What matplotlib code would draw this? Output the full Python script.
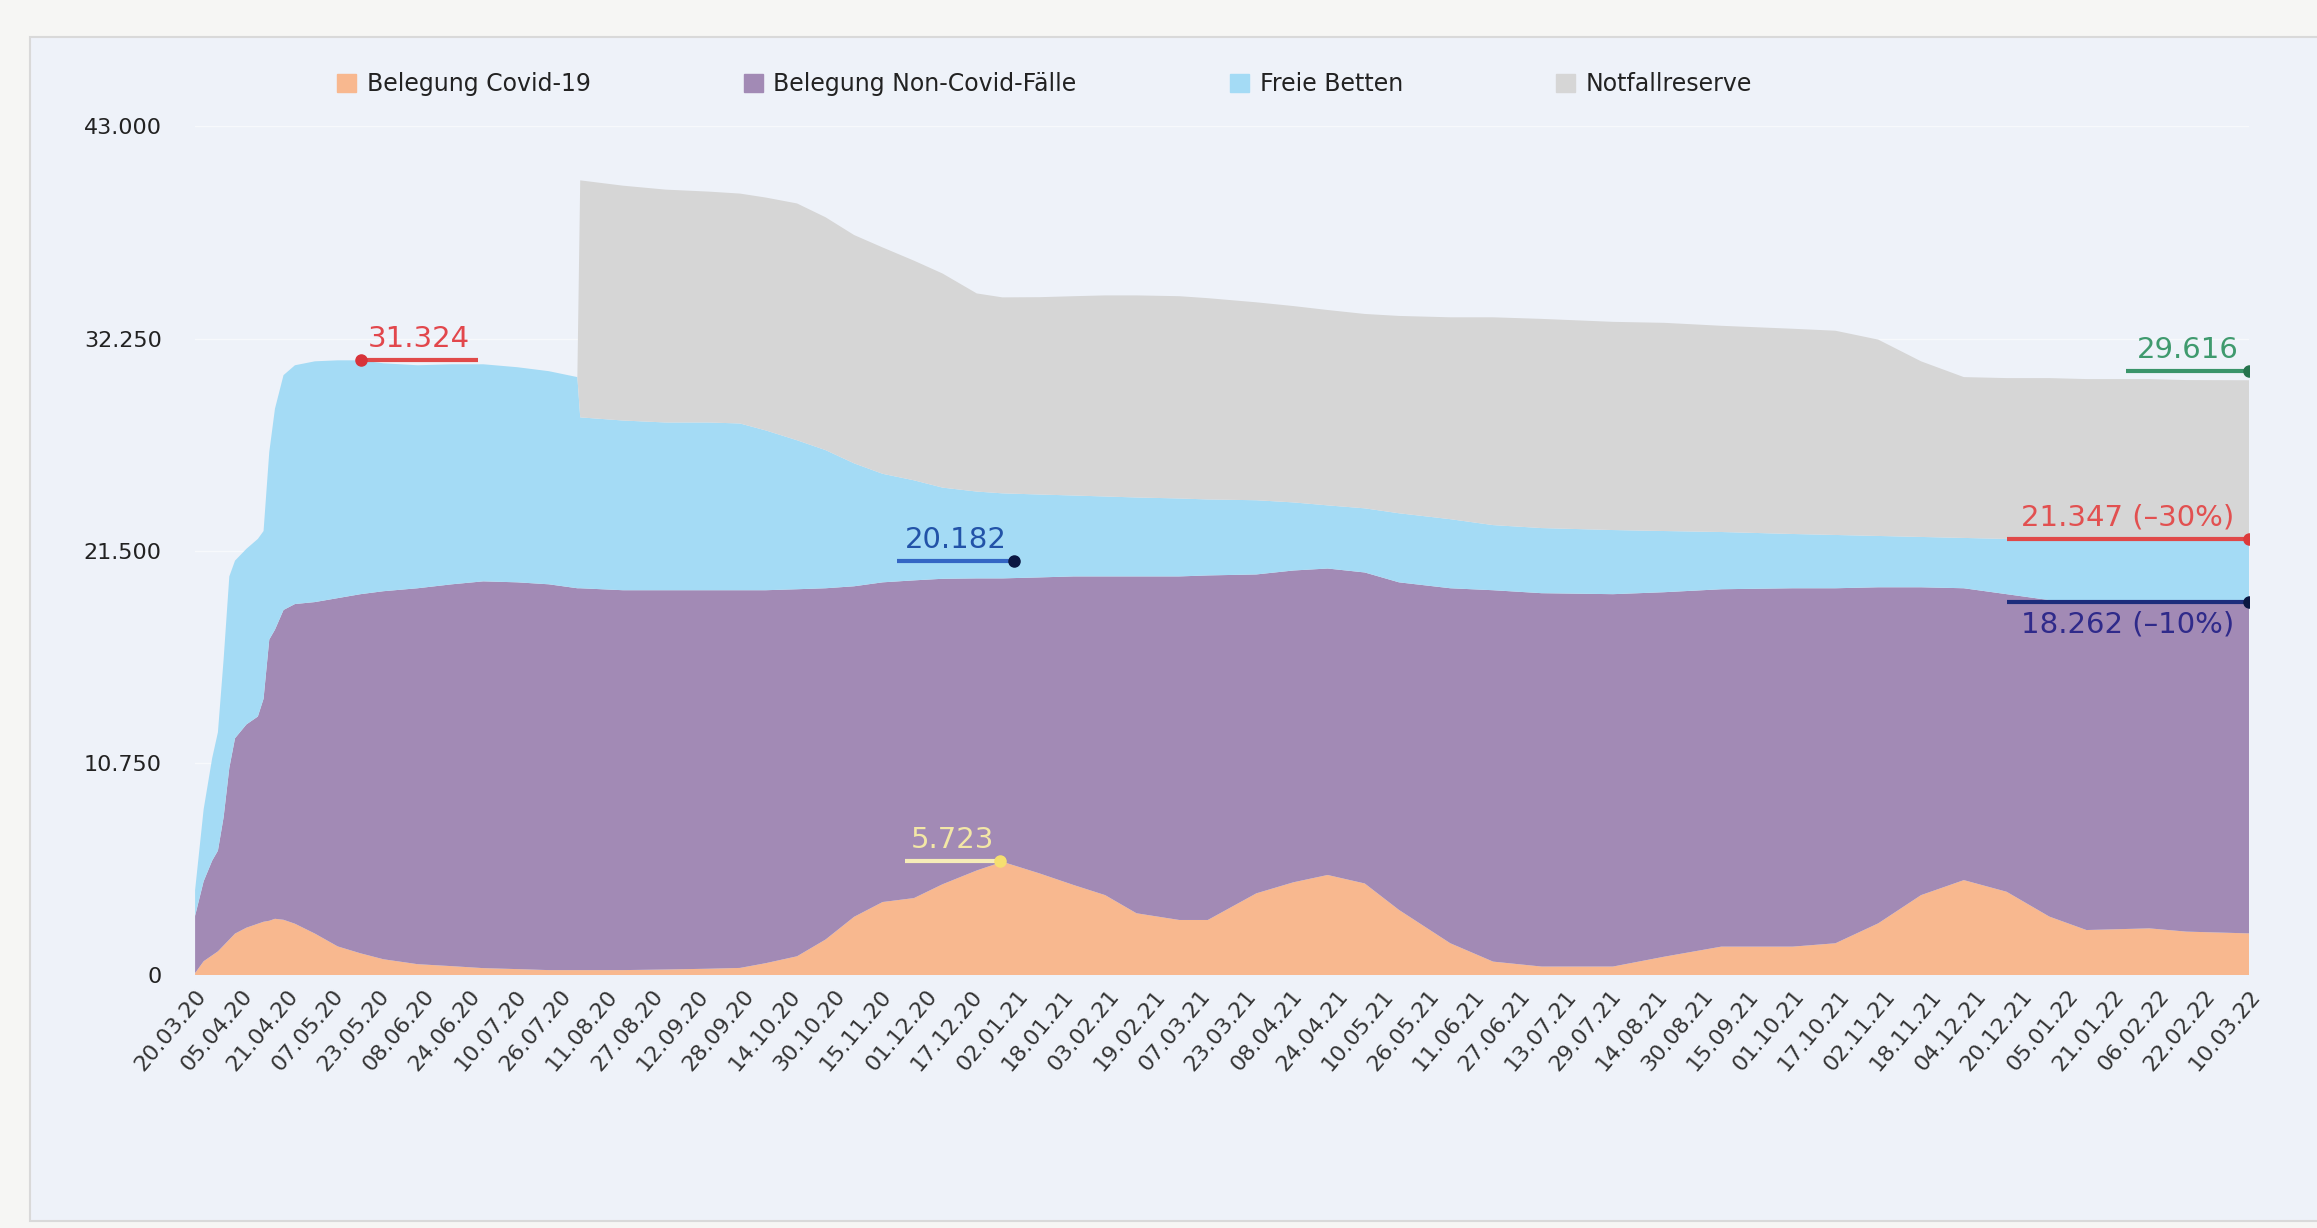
import matplotlib
matplotlib.use("Agg")
import matplotlib.pyplot as plt
import matplotlib.patches as mpatches
import matplotlib.ticker as mticker
import pandas as pd

# reading days (offset from start date) and layer values
start = "2020-03-20"
days = [0, 3, 6, 8, 10, 12, 14, 18, 22, 24, 26, 28, 31, 35, 42, 50, 58, 66, 78, 90,
        101, 113, 124, 134, 135, 150, 165, 180, 191, 200, 211, 221, 231, 241, 252, 262,
        274, 283, 296, 308, 319, 330, 345, 355, 372, 385, 397, 410, 422, 440, 455, 472,
        497, 515, 535, 560, 575, 590, 605, 620, 635, 650, 663, 685, 698, 720]

covid = [100, 700, 1000, 1200, 1500, 1800, 2100, 2400, 2600, 2700, 2750, 2850, 2800, 2600,
         2100, 1450, 1100, 800, 550, 450, 350, 300, 250, 250, 250, 250, 280, 320, 360, 600,
         950, 1800, 2950, 3700, 3900, 4600, 5300, 5740, 5150, 4560, 4050, 3130, 2790, 2790,
         4140, 4700, 5070, 4640, 3300, 1610, 680, 430, 430, 930, 1440, 1440, 1610, 2620,
         4050, 4810, 4220, 2960, 2280, 2365, 2200, 2110]

non_covid = [2900, 4050, 4800, 5100, 6500, 8700, 9900, 10300, 10500, 11300, 14250, 14650,
             15700, 16200, 16800, 17650, 18200, 18650, 19050, 19350, 19600, 19600, 19550,
             19350, 19350, 19250, 19220, 19180, 19140, 18900, 18600, 17800, 16750, 16200,
             16100, 15480, 14800, 14360, 15000, 15640, 16150, 17070, 17410, 17460, 16160,
             15800, 15530, 15760, 16600, 17990, 18820, 18920, 18870, 18470, 18110, 18160,
             17990, 17030, 15600, 14790, 15080, 16040, 16670, 16585, 16700, 16790]

free_beds = [1300, 3650, 5200, 6000, 8000, 9700, 9000, 8900, 9000, 8500, 9500, 11200, 11900,
             12100, 12200, 12050, 11850, 11550, 11300, 11150, 11000, 10900, 10800, 10700,
             8660, 8600, 8500, 8500, 8450, 8100, 7550, 7000, 6230, 5500, 5070, 4620, 4400,
             4310, 4200, 4100, 4050, 4000, 3950, 3850, 3760, 3450, 3200, 3250, 3500, 3500,
             3300, 3300, 3250, 3100, 2900, 2750, 2700, 2600, 2550, 2550, 2800, 3100, 3100,
             3100, 3130, 3130]

reserve = [0, 0, 0, 0, 0, 0, 0, 0, 0, 0, 0, 0, 0, 0, 0, 0, 0, 0, 0, 0, 0, 0, 0, 0,
           12010, 11900, 11800, 11700, 11650, 11800, 12000, 11800, 11570, 11470, 11130,
           10850, 10040, 9930, 10000, 10100, 10190, 10240, 10250, 10200, 10030, 9950, 9900,
           9850, 10000, 10230, 10530, 10600, 10550, 10550, 10450, 10400, 10350, 9950, 8900,
           8150, 8150, 8150, 8150, 8150, 8120, 8110]

series_labels = ["Belegung Covid-19", "Belegung Non-Covid-Fälle", "Freie Betten", "Notfallreserve"]
series_colors = ["#f8b88f", "#a28ab5", "#a4dbf5", "#d6d6d6"]

tick_labels = ["20.03.20", "05.04.20", "21.04.20", "07.05.20", "23.05.20", "08.06.20",
               "24.06.20", "10.07.20", "26.07.20", "11.08.20", "27.08.20", "12.09.20",
               "28.09.20", "14.10.20", "30.10.20", "15.11.20", "01.12.20", "17.12.20",
               "02.01.21", "18.01.21", "03.02.21", "19.02.21", "07.03.21", "23.03.21",
               "08.04.21", "24.04.21", "10.05.21", "26.05.21", "11.06.21", "27.06.21",
               "13.07.21", "29.07.21", "14.08.21", "30.08.21", "15.09.21", "01.10.21",
               "17.10.21", "02.11.21", "18.11.21", "04.12.21", "20.12.21", "05.01.22",
               "21.01.22", "06.02.22", "22.02.22", "10.03.22"]
y_ticks = [0, 10750, 21500, 32250, 43000]

# annotations: label, start day of underline, marker day, marker value, text above?
ann_labels = ["31.324", "20.182", "5.723", "29.616", "21.347 (–30%)", "18.262 (–10%)"]
ann_from = [58, 246, 249, 677, 635, 635]
ann_to = [99, 287, 282, 720, 720, 720]
ann_marker_day = [58, 287, 282, 720, 720, 720]
ann_value = [31180, 21000, 5760, 30600, 22100, 18920]
ann_above = [True, True, True, True, True, False]
ann_text_col = ["#e2474c", "#2253a8", "#f3e7a6", "#3f9a6e", "#e25050", "#2f2a8a"]
ann_line_col = ["#e04a4a", "#3466c4", "#f6ecb8", "#3a946a", "#e04848", "#1d2d7c"]
ann_dot_col = ["#d8333a", "#0b1742", "#f6df70", "#26744e", "#dc3a3a", "#0b1742"]

t0 = pd.Timestamp(start)
dates = [t0 + pd.Timedelta(days=d) for d in days]
tick_dates = pd.to_datetime(tick_labels, format="%d.%m.%y")

fig = plt.figure(figsize=(23.17, 12.28), dpi=100, facecolor="#f6f6f4")
card = mpatches.Rectangle((0.013, 0.006), 1.0, 0.964, transform=fig.transFigure,
                          facecolor="#eef2f9", edgecolor="#d9d9d9", lw=1.5, zorder=-5)
fig.patches.append(card)

ax = fig.add_axes([0.0842, 0.206, 0.8865, 0.691])
ax.set_facecolor("#eef2f9")
ax.grid(axis="y", color="#f7f9fc", lw=1.0, zorder=0)
ax.set_axisbelow(True)

ax.stackplot(dates, covid, non_covid, free_beds, reserve, colors=series_colors,
             labels=series_labels, lw=0, zorder=2)

for i in range(len(ann_labels)):
    d0 = t0 + pd.Timedelta(days=ann_from[i])
    d1 = t0 + pd.Timedelta(days=ann_to[i])
    dm = t0 + pd.Timedelta(days=ann_marker_day[i])
    v = ann_value[i]
    ax.plot([d0, d1], [v, v], color=ann_line_col[i], lw=3, solid_capstyle="butt", zorder=4)
    ax.plot([dm], [v], "o", color=ann_dot_col[i], ms=8, zorder=5)
    mid = d0 + (d1 - d0) / 2
    if ann_above[i]:
        ax.annotate(ann_labels[i], (mid, v), xytext=(0, 5), textcoords="offset points",
                    ha="center", va="bottom", fontsize=21, color=ann_text_col[i], zorder=6)
    else:
        ax.annotate(ann_labels[i], (mid, v), xytext=(0, -6), textcoords="offset points",
                    ha="center", va="top", fontsize=21, color=ann_text_col[i], zorder=6)

ax.set_xlim(t0, t0 + pd.Timedelta(days=days[-1]))
ax.set_ylim(0, 43000)
ax.set_yticks(y_ticks)
ax.yaxis.set_major_formatter(mticker.FuncFormatter(lambda v, p: f"{int(v):,}".replace(",", ".")))
ax.set_xticks(tick_dates)
ax.set_xticklabels(tick_labels, rotation=50, ha="right", rotation_mode="anchor")
ax.tick_params(axis="y", length=0, pad=24, labelsize=16, labelcolor="#222222")
ax.tick_params(axis="x", length=0, pad=8, labelsize=16, labelcolor="#333333")
for s in ax.spines.values():
    s.set_visible(False)

handles = [mpatches.Patch(color=c) for c in series_colors]
fig.legend(handles, series_labels, loc="center left", bbox_to_anchor=(0.1455, 0.9316),
           ncol=4, frameon=False, fontsize=17, handlelength=0.8, handleheight=0.8,
           handletextpad=0.45, columnspacing=6.5, borderpad=0, borderaxespad=0,
           labelcolor="#222222")

fig.savefig("out.png", dpi=100, facecolor=fig.get_facecolor())
